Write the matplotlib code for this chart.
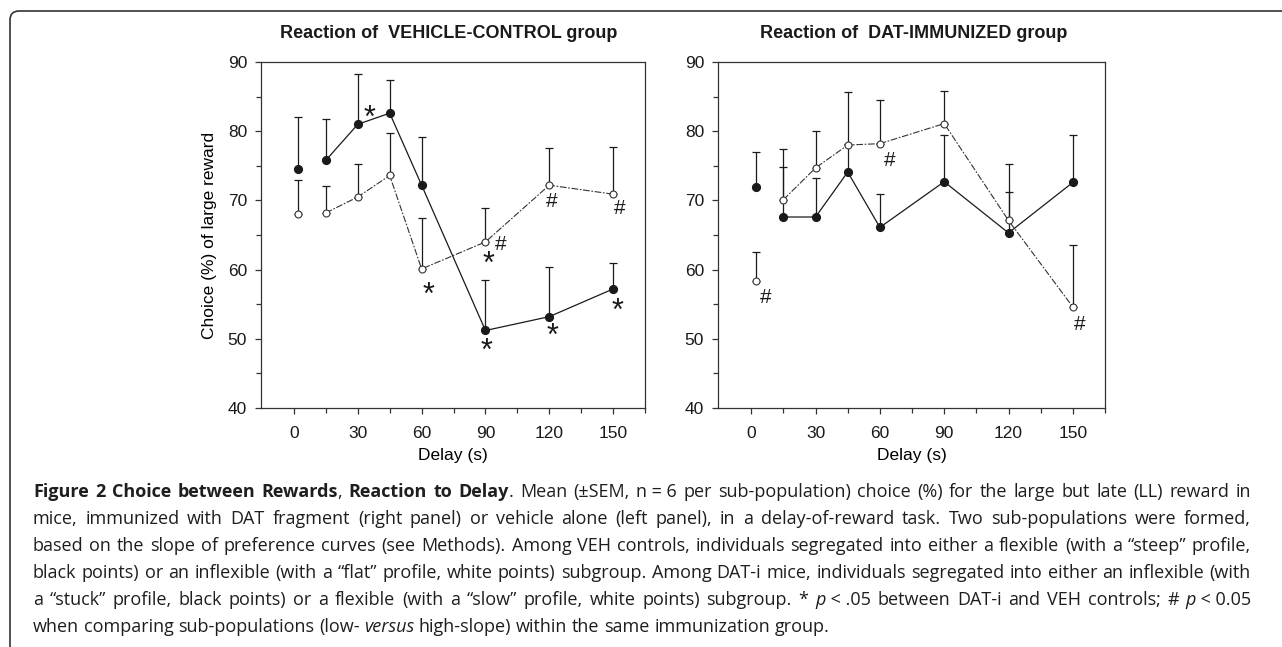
"""
Figure 2 - choice of large reward vs delay, two immunization groups.
"""

import matplotlib
matplotlib.use("Agg")

import matplotlib.pyplot as plt
from matplotlib.patches import FancyBboxPatch
from matplotlib.transforms import IdentityTransform

# ---------------------------------------------------------------------------
# Data
# ---------------------------------------------------------------------------

delay = [2, 15, 30, 45, 60, 90, 120, 150]
x_ticks = [0, 30, 60, 90, 120, 150]

# VEHICLE-CONTROL: steep (black) / flat (white)
veh_black_mean = [74.6, 75.8, 81.0, 82.6, 72.2, 51.2, 53.2, 57.2]
veh_black_sem = [7.4, 5.9, 7.2, 4.8, 7.0, 7.3, 7.2, 3.7]
veh_white_mean = [68.1, 68.2, 70.5, 73.6, 60.1, 64.0, 72.2, 70.9]
veh_white_sem = [4.9, 3.9, 4.8, 6.1, 7.4, 4.9, 5.4, 6.8]

# DAT-IMMUNIZED: stuck (black) / slow (white)
dat_black_mean = [72.0, 67.6, 67.6, 74.1, 66.1, 72.7, 65.3, 72.6]
dat_black_sem = [5.0, 7.2, 5.7, 4.0, 4.8, 6.7, 5.9, 6.8]
dat_white_mean = [58.3, 70.1, 74.7, 78.0, 78.2, 81.1, 67.1, 54.6]
dat_white_sem = [4.2, 7.3, 5.4, 7.6, 6.3, 4.7, 8.1, 8.9]

# significance marks: (symbol, delay, value)
veh_marks = [("*", 35.6, 82.8), ("*", 63, 57.2), ("*", 91.4, 61.7),
             ("#", 97.3, 63.6), ("*", 90.3, 49.1), ("#", 121.3, 69.8),
             ("*", 121.6, 51.3), ("#", 153.1, 68.9), ("*", 152.3, 54.9)]
dat_marks = [("#", 6.6, 55.9), ("#", 64.6, 75.8), ("#", 153.4, 52.1)]

W, H = 1282, 647
PLOT_FONT = "Liberation Sans"
CAP_FONT = ["Open Sans", "DejaVu Sans"]
INK = "#1a1a1a"
FS = 12.5

# ---------------------------------------------------------------------------
# Panels
# ---------------------------------------------------------------------------

fig = plt.figure(figsize=(W / 100, H / 100), dpi=100)
fig.patch.set_facecolor("white")


def draw_panel(rect, b_mean, b_sem, w_mean, w_sem, marks, ylabel):
    ax = fig.add_axes(rect)
    zeros = [0] * len(delay)

    # upper-only error bars
    ax.errorbar(delay, b_mean, yerr=[zeros, b_sem], fmt="none",
                ecolor=INK, elinewidth=0.9, capsize=3, capthick=0.9, zorder=2)
    ax.errorbar(delay, w_mean, yerr=[zeros, w_sem], fmt="none",
                ecolor=INK, elinewidth=0.9, capsize=3, capthick=0.9, zorder=2)

    # first point (delay ~0) is not joined to the curve
    ax.plot(delay[1:], b_mean[1:], "-", color=INK, lw=0.9, zorder=3)
    ax.plot(delay[1:], w_mean[1:], color="#333333", lw=0.8,
            dashes=(6, 1.5, 1.5, 1.5), zorder=3)
    ax.plot(delay, b_mean, "o", ms=5.6, mfc=INK, mec=INK, ls="none", zorder=5)
    ax.plot(delay, w_mean, "o", ms=5.0, mfc="white", mec="#333333", mew=0.8,
            ls="none", zorder=5)

    for sym, x, y in marks:
        size = 22 if sym == "*" else 15
        # the asterisk glyph sits high in its box, pull it down
        shift = -0.22 * size if sym == "*" else 0
        ax.annotate(sym, (x, y), xytext=(0, shift), textcoords="offset points",
                    ha="center", va="center", color=INK, family=PLOT_FONT,
                    fontsize=size)

    ax.set_xlim(-15.5, 165)
    ax.set_ylim(40, 90)
    ax.set_xticks(x_ticks)
    ax.set_xticks([15, 45, 75, 105, 135, 165], minor=True)
    ax.set_yticks([40, 50, 60, 70, 80, 90])
    ax.set_yticks([45, 55, 65, 75, 85], minor=True)
    ax.tick_params(which="major", direction="out", length=4, width=0.9,
                   color="#333333", labelsize=FS)
    ax.tick_params(axis="x", which="major", pad=9)
    ax.tick_params(axis="y", which="major", pad=6)
    ax.tick_params(which="minor", direction="out", length=3.5, width=0.9,
                   color="#333333")
    for lab in ax.get_xticklabels() + ax.get_yticklabels():
        lab.set_family(PLOT_FONT)
        lab.set_color(INK)
    for sp in ax.spines.values():
        sp.set_linewidth(0.9)
        sp.set_color("#333333")
    ax.set_xlabel("Delay (s)", family=PLOT_FONT, fontsize=FS, labelpad=5)
    if ylabel:
        ax.set_ylabel(ylabel, family=PLOT_FONT, fontsize=FS, labelpad=8)
    return ax


draw_panel([261 / W, 1 - 408 / H, 384 / W, 346 / H],
           veh_black_mean, veh_black_sem, veh_white_mean, veh_white_sem,
           veh_marks, "Choice (%) of large reward")
draw_panel([718 / W, 1 - 408 / H, 387 / W, 346 / H],
           dat_black_mean, dat_black_sem, dat_white_mean, dat_white_sem,
           dat_marks, None)

fig.text(449 / W, 1 - 34 / H, "Reaction of  VEHICLE-CONTROL group",
         ha="center", va="center", family=PLOT_FONT, fontsize=13,
         fontweight="bold", color=INK)
fig.text(914 / W, 1 - 34 / H, "Reaction of  DAT-IMMUNIZED group",
         ha="center", va="center", family=PLOT_FONT, fontsize=13,
         fontweight="bold", color=INK)

# ---------------------------------------------------------------------------
# Outer frame (rounded top-left corner, open at right/bottom)
# ---------------------------------------------------------------------------

frame = FancyBboxPatch((10, -60), 1400, H - 11 + 60,
                       boxstyle="round,pad=0,rounding_size=9",
                       transform=IdentityTransform(), fill=False,
                       ec="#333333", lw=1.2)
fig.add_artist(frame)

# ---------------------------------------------------------------------------
# Caption (justified, mixed styles)
# ---------------------------------------------------------------------------

NB = "\u00a0"
caption_lines = [
    [("Figure 2 Choice between Rewards", "b"), (", ", "n"),
     ("Reaction to Delay", "b"),
     (f". Mean (±SEM, n{NB}={NB}6 per sub-population) choice (%) for the "
      "large but late (LL) reward in", "n")],
    [("mice, immunized with DAT fragment (right panel) or vehicle alone "
      "(left panel), in a delay-of-reward task. Two sub-populations were "
      "formed,", "n")],
    [("based on the slope of preference curves (see Methods). Among VEH "
      "controls, individuals segregated into either a flexible (with a "
      "\u201csteep\u201d profile,", "n")],
    [("black points) or an inflexible (with a \u201cflat\u201d profile, white "
      "points) subgroup. Among DAT-i mice, individuals segregated into "
      "either an inflexible (with", "n")],
    [("a \u201cstuck\u201d profile, black points) or a flexible (with a "
      "\u201cslow\u201d profile, white points) subgroup. * ", "n"),
     ("p", "i"), (f"{NB}<{NB}.05 between DAT-i and VEH controls; # ", "n"),
     ("p", "i"), (f"{NB}<{NB}0.05", "n")],
    [("when comparing sub-populations (low- ", "n"), ("versus", "i"),
     (" high-slope) within the same immunization group.", "n")],
]
CAP_LEFT, CAP_RIGHT = 33, 1251
CAP_BASE0, CAP_STEP = 497, 27
CAP_SIZE = 13.0
CAP_STYLE = {
    "n": dict(fontweight="normal", fontstyle="normal"),
    "b": dict(fontweight="bold", fontstyle="normal"),
    "i": dict(fontweight="normal", fontstyle="italic"),
}

renderer = fig.canvas.get_renderer()


def text_width(s, style):
    t = fig.text(0, 0, s, family=CAP_FONT, fontsize=CAP_SIZE, **CAP_STYLE[style])
    w = t.get_window_extent(renderer).width
    t.remove()
    return w


space_w = text_width("a a", "n") - text_width("aa", "n")

for i, runs in enumerate(caption_lines):
    # split the runs into words, each word a list of styled pieces
    words = [[]]
    for txt, st in runs:
        parts = txt.split(" ")
        for k, p in enumerate(parts):
            if k > 0:
                words.append([])
            if p:
                words[-1].append((p, st))
    words = [w for w in words if w]

    y = 1 - round(CAP_BASE0 + i * CAP_STEP) / H
    placed = []
    for w in words:
        pieces = []
        for p, st in w:
            t = fig.text(0, y, p, ha="left", va="baseline", family=CAP_FONT,
                         fontsize=CAP_SIZE, color="#1e1e1e", **CAP_STYLE[st])
            pieces.append((t, t.get_window_extent(renderer).width))
        placed.append(pieces)

    total = sum(pw for pieces in placed for _, pw in pieces)
    last = i == len(caption_lines) - 1
    if last:
        gap = space_w
    else:
        gap = max(0.6 * space_w,
                  (CAP_RIGHT - CAP_LEFT - total) / (len(placed) - 1))
    x = CAP_LEFT
    for pieces in placed:
        for t, pw in pieces:
            t.set_x(x / W)
            x += pw
        x += gap

fig.savefig("out.png", dpi=100, facecolor="white")
